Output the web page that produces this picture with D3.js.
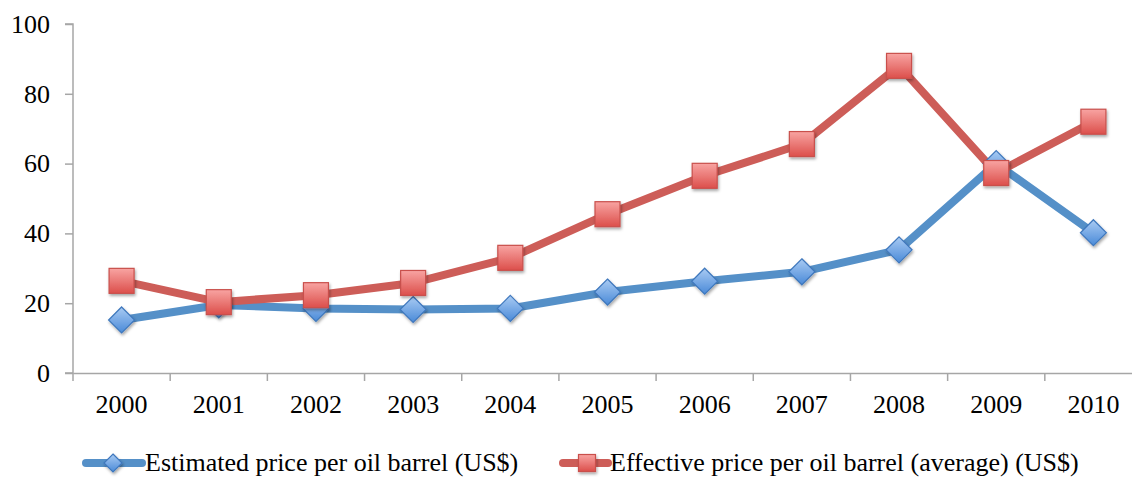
<!DOCTYPE html>
<html><head><meta charset="utf-8">
<script src="https://cdn.jsdelivr.net/npm/d3@7/dist/d3.min.js"></script>
<style>body{margin:0;background:#fff}svg{display:block}</style>
</head><body>
<svg id="c" width="1132" height="477"></svg>
<script>
const years = ["2000","2001","2002","2003","2004","2005","2006","2007","2008","2009","2010"];
const estimated = [15.2, 19.5, 18.5, 18.2, 18.5, 23.2, 26.3, 29.0, 35.3, 60.0, 40.2];
const effective = [26.4, 20.3, 22.3, 25.8, 33.0, 45.5, 56.5, 65.6, 88.0, 57.3, 72.0];
const yTicks = [0, 20, 40, 60, 80, 100];
const seriesNames = ["Estimated price per oil barrel (US$)", "Effective price per oil barrel (average) (US$)"];

const svg = d3.select("#c");
const font = "'Liberation Serif','Times New Roman',serif";
const x = d3.scaleBand().domain(years).range([73, 1142]);
const y = d3.scaleLinear().domain([0, 100]).range([373, 24]);

const defs = svg.append("defs");
const sh = defs.append("filter").attr("id","sh").attr("x","-50%").attr("y","-50%").attr("width","200%").attr("height","200%");
sh.append("feDropShadow").attr("dx",1).attr("dy",2).attr("stdDeviation",1.5).attr("flood-color","#000").attr("flood-opacity",0.35);
const gb = defs.append("linearGradient").attr("id","gb").attr("x1",0).attr("y1",0).attr("x2",0).attr("y2",1);
gb.append("stop").attr("offset","0%").attr("stop-color","#a9cbf3");
gb.append("stop").attr("offset","100%").attr("stop-color","#4a8ad8");
const gr = defs.append("linearGradient").attr("id","gr").attr("x1",0).attr("y1",0).attr("x2",0).attr("y2",1);
gr.append("stop").attr("offset","0%").attr("stop-color","#f8a4a2");
gr.append("stop").attr("offset","100%").attr("stop-color","#dc4f4b");

// axes
const axisColor = "#a6a6a6";
const ya = svg.append("g").attr("transform","translate(73,0)")
  .call(d3.axisLeft(y).tickValues(yTicks).tickSize(8).tickPadding(15).tickFormat(d3.format("d")));
const xa = svg.append("g").attr("transform","translate(0,373)")
  .call(d3.axisBottom(x).tickSize(0).tickPadding(22));
// boundary ticks for the x axis
const bounds = years.map(d => x(d)).concat([x.range()[1]]);
svg.append("g").selectAll("line").data(bounds).join("line")
  .attr("x1", d=>d).attr("x2", d=>d).attr("y1", 373).attr("y2", 381)
  .attr("stroke", axisColor).attr("stroke-width", 1.5);
[ya, xa].forEach(a => {
  a.select(".domain").attr("stroke", axisColor).attr("stroke-width", 1.5);
  a.selectAll(".tick line").attr("stroke", axisColor).attr("stroke-width", 1.5);
  a.selectAll("text").attr("font-family", font).attr("font-size", 26).attr("fill", "#000");
});
ya.select(".domain").attr("d", "M-8,24H0V373H-8");

const cx = d => x(d) + x.bandwidth()/2;
const line = d3.line().x((v,i)=>cx(years[i])).y(v=>y(v));
const blue = "#5590c8", red = "#cd5d58";

svg.append("path").datum(estimated).attr("d", line).attr("fill","none").attr("stroke",blue).attr("stroke-width",8).attr("stroke-linejoin","round");
svg.append("path").datum(effective).attr("d", line).attr("fill","none").attr("stroke",red).attr("stroke-width",8).attr("stroke-linejoin","round");

function diamond(g, px, py, s) {
  g.append("path").attr("d", `M${px},${py-s}L${px+s},${py}L${px},${py+s}L${px-s},${py}Z`)
    .attr("fill","url(#gb)").attr("stroke","#3f78bd").attr("stroke-width",1.2).attr("filter","url(#sh)");
}
function square(g, px, py, s) {
  g.append("rect").attr("x",px-s).attr("y",py-s).attr("width",2*s).attr("height",2*s)
    .attr("fill","url(#gr)").attr("stroke","#c9504c").attr("stroke-width",1.2).attr("filter","url(#sh)");
}
const mb = svg.append("g");
estimated.forEach((v,i)=>diamond(mb, cx(years[i]), y(v), 13));
const mr = svg.append("g");
effective.forEach((v,i)=>square(mr, cx(years[i]), y(v), 12.5));

// legend
const lg = svg.append("g");
lg.append("line").attr("x1",86).attr("x2",142).attr("y1",463).attr("y2",463).attr("stroke",blue).attr("stroke-width",8).attr("stroke-linecap","round");
diamond(lg, 113, 463, 9);
lg.append("text").attr("x",145).attr("y",470.5).attr("font-family",font).attr("font-size",26).text(seriesNames[0]);
lg.append("line").attr("x1",563).attr("x2",608).attr("y1",463).attr("y2",463).attr("stroke",red).attr("stroke-width",8).attr("stroke-linecap","round");
square(lg, 587, 463, 8.5);
lg.append("text").attr("x",610).attr("y",470.5).attr("font-family",font).attr("font-size",26).text(seriesNames[1]);
</script>
</body></html>
